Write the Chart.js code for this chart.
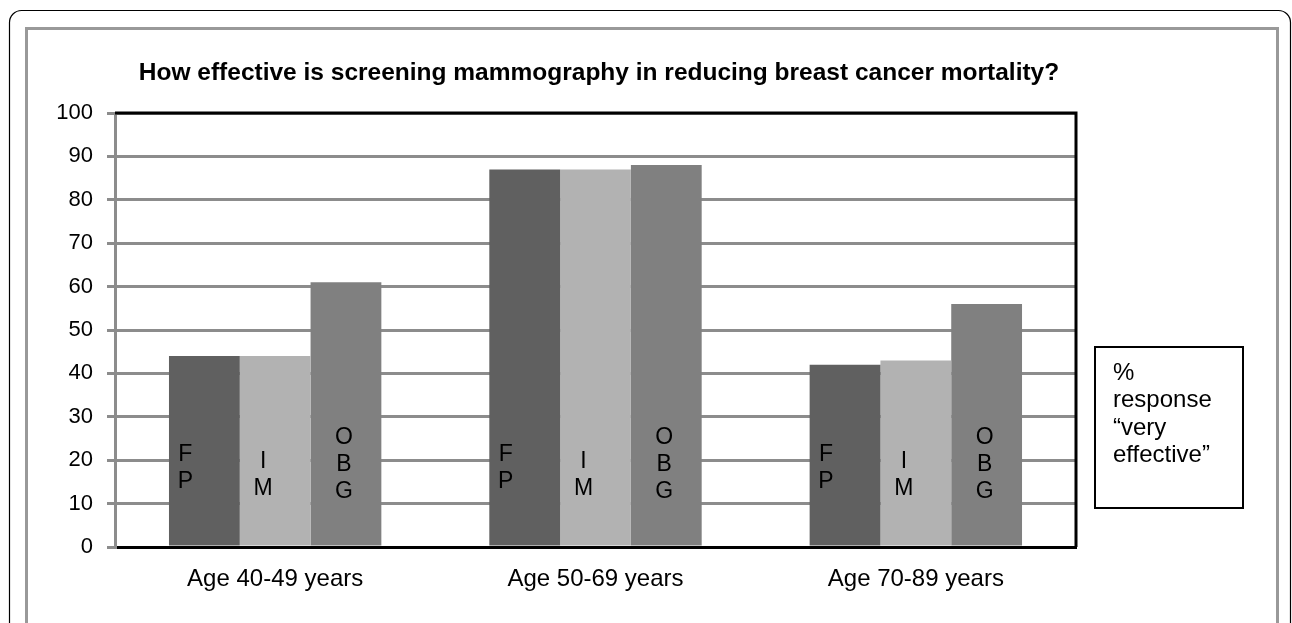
<!DOCTYPE html>
<html>
<head>
<meta charset="utf-8">
<script src="https://cdn.jsdelivr.net/npm/chart.js@4"></script>
<style>
  html, body { margin: 0; padding: 0; background: #fff; }
  #wrap { position: relative; width: 1292px; height: 623px; }
</style>
</head>
<body>
<div id="wrap"><canvas id="chart" width="1292" height="623"></canvas></div>
<script>
const categories = ["Age 40-49 years", "Age 50-69 years", "Age 70-89 years"];
const seriesNames = ["FP", "IM", "OBG"];
const fpValues = [44, 87, 42];
const imValues = [44, 87, 43];
const obgValues = [61, 88, 56];
const yTicks = [0, 10, 20, 30, 40, 50, 60, 70, 80, 90, 100];
const titleText = "How effective is screening mammography in reducing breast cancer mortality?";
const noteLines = ["%", "response", "\u201cvery", "effective\u201d"];

const FONT = "'Liberation Sans', Arial, sans-serif";

// letters stacked inside each bar, drawn on top of the bars
const barLetters = {
  id: "barLetters",
  afterDatasetsDraw(chart) {
    const ctx = chart.ctx;
    const y = chart.scales.y;
    const startVal = [21.2, 19.6, 25.3];
    const shift = [-19, -12, -2];
    ctx.save();
    ctx.font = "23px " + FONT;
    ctx.fillStyle = "#000";
    ctx.textAlign = "center";
    ctx.textBaseline = "middle";
    chart.data.datasets.forEach((ds, i) => {
      const meta = chart.getDatasetMeta(i);
      const letters = seriesNames[i].split("");
      meta.data.forEach(bar => {
        letters.forEach((ch, k) => {
          ctx.fillText(ch, bar.x + shift[i], y.getPixelForValue(startVal[i]) + k * 27);
        });
      });
    });
    ctx.restore();
  }
};

// frame, title, plot border and side note
const decor = {
  id: "decor",
  beforeDraw(chart) {
    const ctx = chart.ctx;
    ctx.save();
    ctx.fillStyle = "#fff";
    ctx.fillRect(0, 0, chart.width, chart.height);
    // outer rounded frame
    ctx.strokeStyle = "#000";
    ctx.lineWidth = 1.2;
    ctx.beginPath();
    ctx.roundRect(9.5, 10.5, 1281, 700, 12);
    ctx.stroke();
    // inner grey frame
    ctx.strokeStyle = "#999";
    ctx.lineWidth = 3;
    ctx.strokeRect(26.5, 28.5, 1251, 700);
    ctx.restore();
  },
  afterDraw(chart) {
    const ctx = chart.ctx;
    const a = chart.chartArea;
    ctx.save();
    ctx.fillStyle = "#000";
    ctx.font = "bold 24.5px " + FONT;
    ctx.textAlign = "center";
    ctx.textBaseline = "middle";
    ctx.fillText(titleText, 599, 73);
    // black top and right edges of the plot
    ctx.strokeStyle = "#000";
    ctx.lineWidth = 3;
    ctx.beginPath();
    ctx.moveTo(a.left, a.top);
    ctx.lineTo(a.right, a.top);
    ctx.lineTo(a.right, a.bottom);
    ctx.stroke();
    // note box
    ctx.lineWidth = 2;
    ctx.strokeRect(1095, 347, 148, 161);
    ctx.font = "24px " + FONT;
    ctx.textAlign = "left";
    noteLines.forEach((t, i) => ctx.fillText(t, 1113, 373 + i * 27.5));
    ctx.restore();
  }
};

new Chart(document.getElementById("chart"), {
  type: "bar",
  data: {
    labels: categories,
    datasets: [
      { label: seriesNames[0], data: fpValues, backgroundColor: "#606060" },
      { label: seriesNames[1], data: imValues, backgroundColor: "#b2b2b2" },
      { label: seriesNames[2], data: obgValues, backgroundColor: "#808080" }
    ]
  },
  options: {
    responsive: false,
    animation: false,
    events: [],
    layout: { padding: { top: 113, right: 216, left: 0, bottom: 0 } },
    datasets: { bar: { barPercentage: 1, categoryPercentage: 0.663 } },
    plugins: { legend: { display: false }, tooltip: { enabled: false } },
    scales: {
      x: {
        grid: { display: false, drawTicks: false },
        border: { color: "#000", width: 3 },
        ticks: { color: "#000", font: { family: FONT, size: 24 }, padding: 18 },
        afterFit(s) { s.height = 623 - 547; }
      },
      y: {
        min: 0,
        max: 100,
        afterBuildTicks(s) { s.ticks = yTicks.map(v => ({ value: v })); },
        grid: { color: "#8c8c8c", lineWidth: 3, tickLength: 8 },
        border: { color: "#8c8c8c", width: 3 },
        ticks: { color: "#000", font: { family: FONT, size: 22 }, padding: 14 },
        afterFit(s) { s.width = 115; }
      }
    }
  },
  plugins: [decor, barLetters]
});
</script>
</body>
</html>
